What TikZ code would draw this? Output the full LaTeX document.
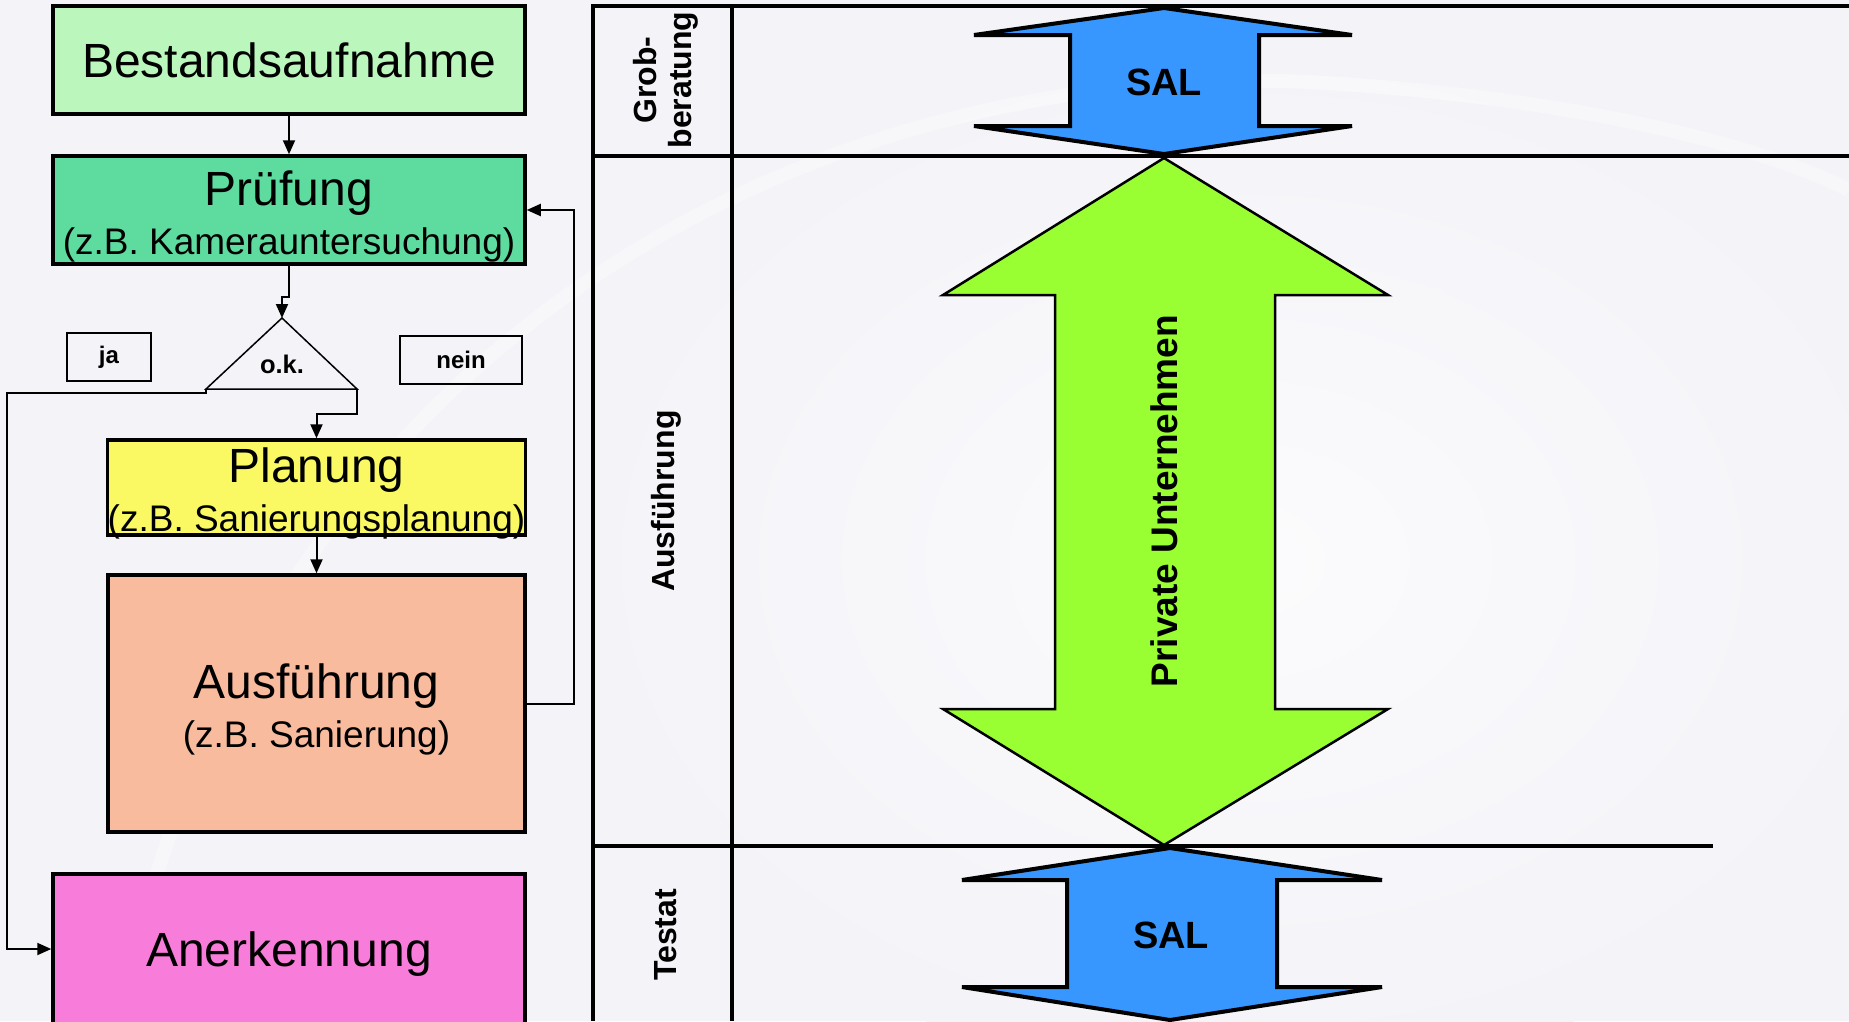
\documentclass[tikz,border=0pt]{standalone}
\usepackage{fontspec}
\setmainfont{Liberation Sans}
\usepackage{tikz}
\usetikzlibrary{shapes, arrows, arrows.meta, positioning, calc}
\definecolor{bg}{RGB}{243,243,248}
\definecolor{cBestand}{RGB}{187,247,189}
\definecolor{cPruef}{RGB}{94,219,158}
\definecolor{cPlan}{RGB}{250,249,99}
\definecolor{cAusf}{RGB}{249,187,157}
\definecolor{cAner}{RGB}{248,125,219}
\definecolor{cSal}{RGB}{55,151,254}
\definecolor{cPrivat}{RGB}{153,255,51}

\newcommand\titlesize{\fontsize{48}{49}\selectfont}
\newcommand\subsize{\fontsize{37}{49}\selectfont}
\newcommand\topstrut{\rule{0pt}{47pt}}

\tikzset{
  box/.style={draw, line width=3.5pt, inner sep=0pt, align=center, font=\subsize},
  tag/.style={draw, line width=1.5pt, inner sep=0pt, font=\bfseries\fontsize{24}{28}\selectfont},
  lane/.style={rotate=90, align=center, font=\bfseries\fontsize{32}{35}\selectfont},
  laneline/.style={line width=3.5pt},
  flow/.style={line width=2pt, ->},
}

\begin{document}
\begin{tikzpicture}[x=1pt, y=-1pt, >={Triangle[length=14pt,width=12pt]}]
  \clip (0,0) rectangle (1849,1021);
  \fill [bg] (0,0) rectangle (1849,1021);
  % heller Hintergrund
  \shade [inner color=white!70!bg, outer color=bg] (1250,560) ellipse [x radius=700, y radius=520];
  \draw [white, line width=14pt, opacity=0.4] (120,1021) .. controls (250,350) and (800,60) .. (1309,82)
    .. controls (1550,95) and (1750,140) .. (1849,190);

  % Ablauf links
  \node [box, fill=cBestand, minimum width=472, minimum height=108] (bestand) at (289,60) {\titlesize Bestandsaufnahme};
  \node [box, fill=cPruef, minimum width=472, minimum height=108] (pruef) at (289,210) {{\titlesize\topstrut Prüfung}\\(z.B. Kamerauntersuchung)};
  \node [box, fill=cPlan, minimum width=417, minimum height=95, text height=91.6pt, text depth=3.4pt] (plan) at (316.5,487.5) {{\titlesize Planung}\\(z.B. Sanierungsplanung)};
  \node [box, fill=cAusf, minimum width=417, minimum height=257] (ausf) at (316.5,703.5) {{\titlesize\topstrut Ausführung}\\(z.B. Sanierung)};
  \node [box, fill=cAner, minimum width=472, minimum height=150, text height=44pt] (aner) at (289,949) {\titlesize Anerkennung};

  % Entscheidung
  \coordinate (okapex) at (282,318);
  \coordinate (okleft) at (206,389);
  \coordinate (okright) at (357,389);
  \draw [line width=1.5pt] (okapex) -- (okright) -- (okleft) -- cycle;
  \node [font=\bfseries\fontsize{25.5}{28}\selectfont] (ok) at (282,364) {o.k.};
  \node [tag, minimum width=84, minimum height=48] (ja) at (109,357) {ja};
  \node [tag, minimum width=122, minimum height=48] (nein) at (461,360) {nein};

  \draw [flow] (bestand) -- (pruef);
  \draw [flow] (pruef.south) -- ++(0,31) -| (okapex);
  \draw [flow] (okright) -- ++(0,25) -| (plan.north);
  \draw [flow] (plan) -- (ausf);
  \draw [flow] (okleft) -- ++(0,4) -| ([xshift=-44pt]aner.west) -- (aner.west);
  \draw [flow] (ausf.east) -- ++(47,0) |- (pruef.east);

  % Tabelle rechts
  \draw [laneline] (593,1021) -- (593,6) -- (1849,6);
  \draw [laneline] (732,6) -- (732,1021);
  \draw [laneline] (593,156) -- (1849,156);
  \draw [laneline] (593,846) -- (1713,846);

  \node [lane] (grob) at (666,80) {Grob-\\beratung};
  \node [lane] (ausfuehrung) at (666,501) {Ausführung};
  \node [lane] (testat) at (666,935) {Testat};

  % Pfeile
  \draw [fill=cSal, line width=4pt] (1164,8) -- (1352,35) -- (1259,35) -- (1259,126) -- (1352,126) -- (1164,154)
    -- (974,126) -- (1070,126) -- (1070,35) -- (974,35) -- cycle;
  \draw [fill=cPrivat, line width=2.5pt] (1164,158) -- (1388,295) -- (1275,295) -- (1275,709) -- (1388,709) -- (1164,845)
    -- (943,709) -- (1055,709) -- (1055,295) -- (943,295) -- cycle;
  \draw [fill=cSal, line width=4pt] (1170,848) -- (1382,880) -- (1277,880) -- (1277,987) -- (1382,987) -- (1170,1020)
    -- (962,987) -- (1067,987) -- (1067,880) -- (962,880) -- cycle;

  \node [font=\bfseries\fontsize{38}{40}\selectfont] (saloben) at (1164,82) {SAL};
  \node [font=\bfseries\fontsize{38}{40}\selectfont] (salunten) at (1171,935) {SAL};
  \node [rotate=90, font=\bfseries\fontsize{37}{40}\selectfont] (privat) at (1164,501) {Private Unternehmen};
\end{tikzpicture}
\end{document}
